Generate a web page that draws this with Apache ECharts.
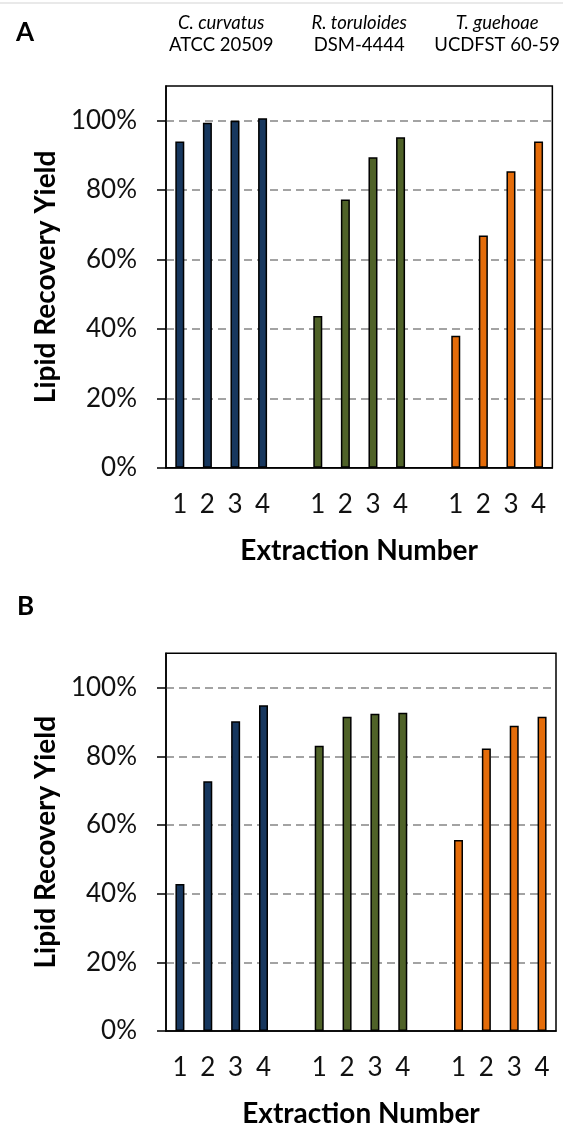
<!DOCTYPE html>
<html>
<head>
<meta charset="utf-8">
<script src="https://cdn.jsdelivr.net/npm/echarts@6/dist/echarts.min.js"></script>
<style>
html,body{margin:0;padding:0;background:#fff;}
#chart{width:563px;height:1129px;}
</style>
</head>
<body>
<div id="chart"></div>
<script>
// ---- data ----
const strainNames = ['C. curvatus', 'R. toruloides', 'T. guehoae'];
const strainIds = ['ATCC 20509', 'DSM-4444', 'UCDFST 60-59'];
const extractionLabels = ['1', '2', '3', '4'];
const yTicks = [0, 20, 40, 60, 80, 100];
// Panel A
const yieldA_curvatus = [94.0, 99.4, 100.0, 100.7];
const yieldA_toruloides = [43.7, 77.3, 89.5, 95.2];
const yieldA_guehoae = [38.0, 66.9, 85.4, 94.0];
// Panel B
const yieldB_curvatus = [42.8, 72.7, 90.2, 94.9];
const yieldB_toruloides = [83.1, 91.5, 92.4, 92.7];
const yieldB_guehoae = [55.6, 82.3, 88.9, 91.5];

const colors = ['#17375E', '#4F6228', '#E46C0A'];
const FONT = 'Lato';

// slots: 4 bars, gap, 4 bars, gap, 4 bars
const slotLabels = [];
strainNames.forEach((_, g) => {
  extractionLabels.forEach(l => slotLabels.push(l));
  if (g < strainNames.length - 1) slotLabels.push('');
});
const slotKeys = slotLabels.map((_, i) => 's' + i);
const groupStart = g => g * (extractionLabels.length + 1);
const groupCenters = strainNames.map((_, g) => groupStart(g) + (extractionLabels.length - 1) / 2);

function slotData(values, g) {
  const arr = slotKeys.map(() => '-');
  values.forEach((v, i) => { arr[groupStart(g) + i] = v; });
  return arr;
}

const grids = [
  {left: 166, right: 7, top: 86, bottom: 661.3},
  {left: 166, right: 7, top: 653.3, bottom: 93.3}
];

function xAxisFor(gi) {
  return {
    type: 'category', gridIndex: gi, data: slotKeys,
    axisLine: {show: true, onZero: false, lineStyle: {color: '#000', width: 1.5}},
    axisTick: {show: false},
    axisLabel: {interval: 0, margin: 24, fontFamily: FONT, fontSize: 26, color: '#111',
      formatter: (v, i) => slotLabels[i]},
    name: 'Extraction Number', nameLocation: 'middle', nameGap: 69,
    nameTextStyle: {fontFamily: FONT, fontSize: 28, fontWeight: 'bold', color: '#000'}
  };
}
function yAxisFor(gi) {
  return {
    type: 'value', gridIndex: gi, min: 0, max: 110, interval: 20,
    axisLine: {show: true, onZero: false, lineStyle: {color: '#000', width: 1.5}},
    axisTick: {show: true, inside: false, length: 9, lineStyle: {color: '#000', width: 1.5}, customValues: yTicks},
    axisLabel: {margin: 29, fontFamily: FONT, fontSize: 26, color: '#111', customValues: yTicks,
      formatter: v => v + '%'},
    splitLine: {show: true, showMinLine: false,
      lineStyle: {color: '#858585', width: 1.5, type: [8, 5]}},
    name: 'Lipid Recovery Yield', nameLocation: 'middle', nameGap: 106,
    nameTextStyle: {fontFamily: FONT, fontSize: 28, fontWeight: 'bold', color: '#000'}
  };
}

const headerAxis = {
  type: 'value', gridIndex: 0, position: 'top',
  min: -0.5, max: slotKeys.length - 0.5,
  axisLine: {show: false, onZero: false}, axisTick: {show: false}, splitLine: {show: false},
  axisLabel: {
    customValues: groupCenters, margin: 30,
    formatter: v => {
      const g = groupCenters.findIndex(c => Math.abs(c - v) < 0.01);
      return g < 0 ? '' : '{it|' + strainNames[g] + '}\n{rg|' + strainIds[g] + '}';
    },
    rich: {
      it: {fontFamily: FONT, fontStyle: 'italic', fontSize: 18.5, lineHeight: 22, color: '#000', align: 'center'},
      rg: {fontFamily: FONT, fontSize: 18.5, lineHeight: 22, color: '#000', align: 'center'}
    }
  }
};

function barSeries(values, g, gi) {
  return {
    type: 'bar', xAxisIndex: gi, yAxisIndex: gi,
    data: slotData(values, g),
    barWidth: 9, barGap: '-100%',
    itemStyle: {color: colors[g], borderColor: '#000', borderWidth: 1.5},
    z: 3
  };
}

const chart = echarts.init(document.getElementById('chart'), null, {renderer: 'canvas'});
chart.setOption({
  animation: false,
  backgroundColor: '#fff',
  title: [
    {text: 'A', left: 11, top: 15, textStyle: {fontFamily: FONT, fontSize: 26, fontWeight: 'bold', color: '#000'}},
    {text: 'B', left: 12, top: 589, textStyle: {fontFamily: FONT, fontSize: 26, fontWeight: 'bold', color: '#000'}}
  ],
  graphic: [{type: 'line', shape: {x1: 0, y1: 3, x2: 563, y2: 3}, style: {stroke: '#e2e2e2', lineWidth: 1.5}}],
  grid: grids.map(g => Object.assign({show: true, borderColor: '#000', borderWidth: 1.5, containLabel: false}, g)),
  xAxis: [xAxisFor(0), xAxisFor(1), headerAxis],
  yAxis: [yAxisFor(0), yAxisFor(1)],
  series: [
    barSeries(yieldA_curvatus, 0, 0),
    barSeries(yieldA_toruloides, 1, 0),
    barSeries(yieldA_guehoae, 2, 0),
    barSeries(yieldB_curvatus, 0, 1),
    barSeries(yieldB_toruloides, 1, 1),
    barSeries(yieldB_guehoae, 2, 1)
  ]
});
</script>
</body>
</html>
